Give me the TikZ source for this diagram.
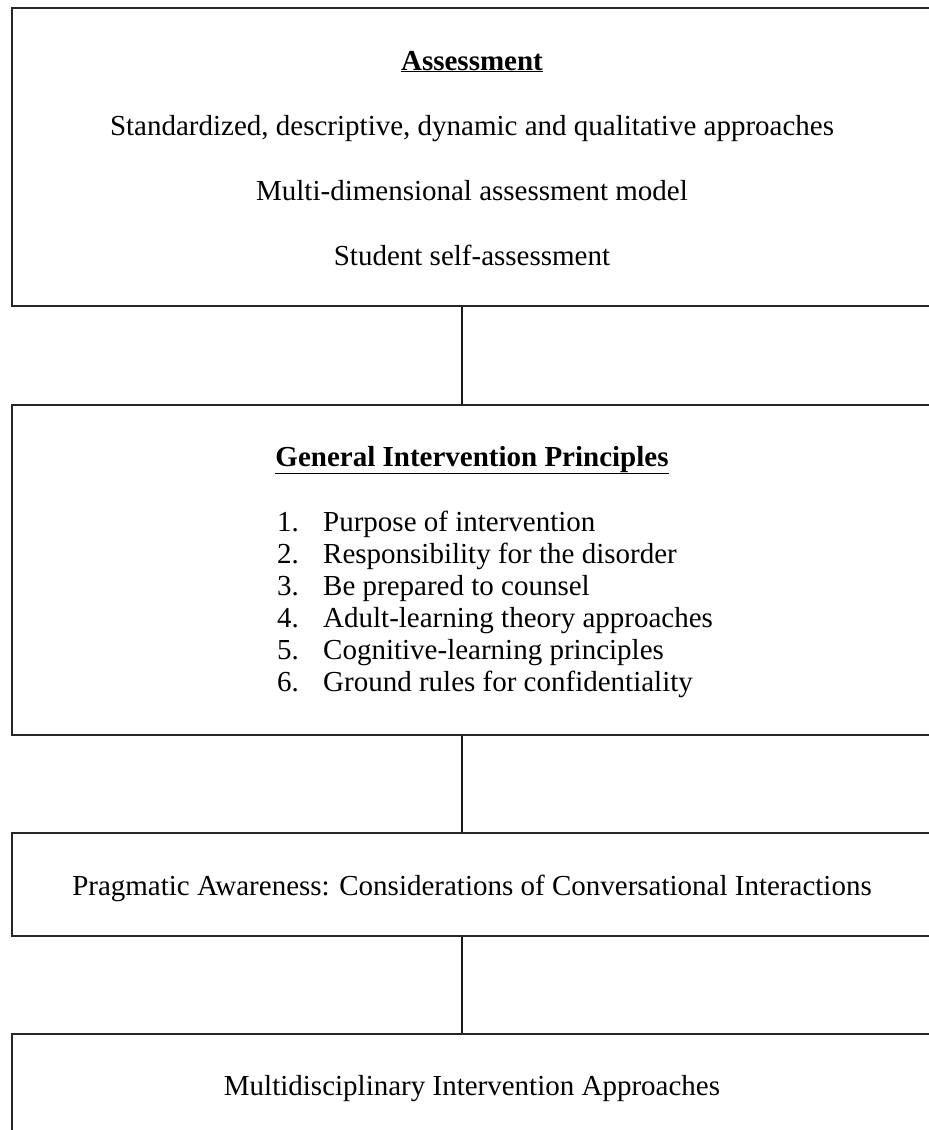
\documentclass[tikz,border=0pt]{standalone}
\usepackage{fontspec}
\setmainfont{Liberation Serif}
\begin{document}
\begin{tikzpicture}[x=1pt,y=-1pt,
  box/.style={draw=black!85,line width=1.4pt,rectangle,minimum width=920pt,inner sep=0pt},
  txt/.style={anchor=base,inner sep=0pt,font=\fontsize{29}{32}\selectfont},
  link/.style={draw=black!90,line width=1.4pt}]
\useasboundingbox (0,0) rectangle (929,1130);
\clip (0,0) rectangle (929,1130);
\fill[white] (0,0) rectangle (929,1130);
% boxes
\node[box,minimum height=298pt] (b1) at (472,157) {};
\node[box,minimum height=330pt] (b2) at (472,570) {};
\node[box,minimum height=103pt] (b3) at (472,884.5) {};
\node[box,minimum height=136pt] (b4) at (472,1102) {};
% connectors
\draw[link] ([xshift=-10pt]b1.south) -- ([xshift=-10pt]b2.north);
\draw[link] ([xshift=-10pt]b2.south) -- ([xshift=-10pt]b3.north);
\draw[link] ([xshift=-10pt]b3.south) -- ([xshift=-10pt]b4.north);
% box 1 texts
\node[txt] (h1) at (472,70) {\textbf{\underline{Assessment}}};
\node[txt] (a1) at (472,135) {Standardized, descriptive, dynamic and qualitative approaches};
\node[txt] (a2) at (472,200) {Multi-dimensional assessment model};
\node[txt] (a3) at (472,265) {Student self-assessment};
% box 2 texts
\node[txt] (h2) at (472,466) {\textbf{\underline{General Intervention Principles}}};
\foreach \i/\t in {1/Purpose of intervention,2/Responsibility for the disorder,3/Be prepared to counsel,4/Adult-learning theory approaches,5/Cognitive-learning principles,6/Ground rules for confidentiality}{
  \node[txt,anchor=base west] (n\i) at (277,{499+32*\i}) {\i.};
  \node[txt,anchor=base west] (i\i) at (323,{499+32*\i}) {\t};
}
% box 3 text
\node[txt] (p1) at (472,895) {Pragmatic Awareness: Considerations of Conversational Interactions};
% box 4 text
\node[txt] (m1) at (472,1095) {Multidisciplinary Intervention Approaches};
\end{tikzpicture}
\end{document}
